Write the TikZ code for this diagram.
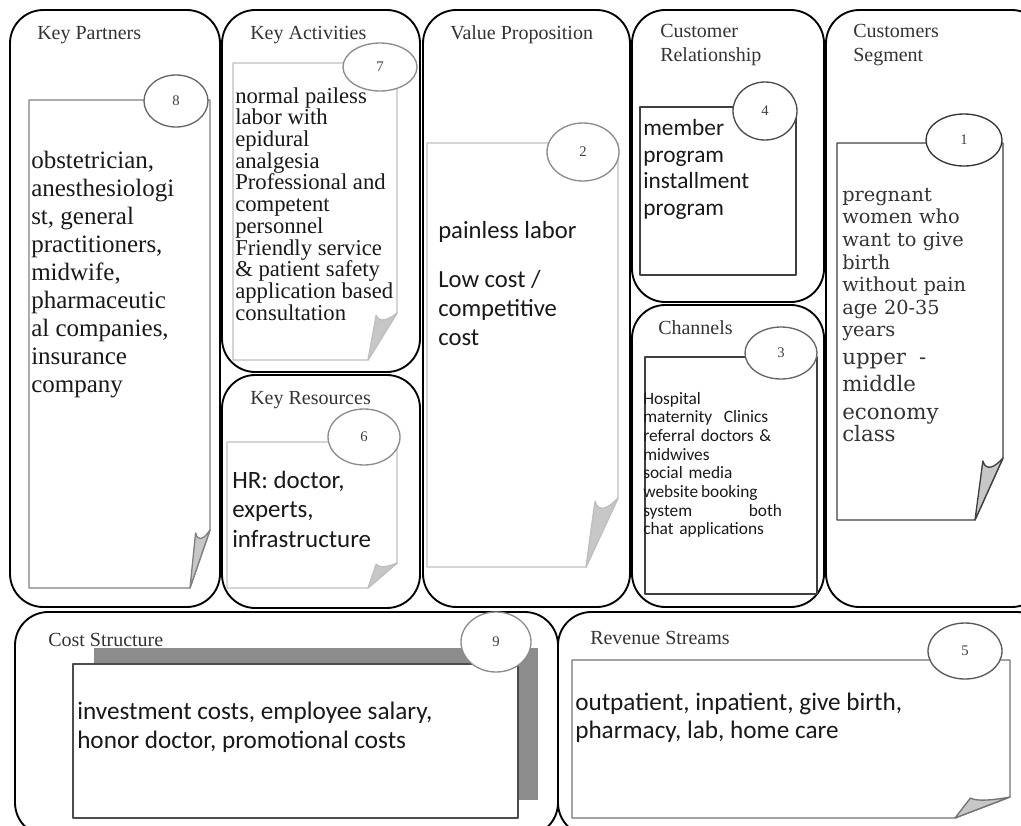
\documentclass[tikz,border=0pt]{standalone}
\usepackage{fontspec}
\setmainfont{Liberation Serif}
\newfontfamily\carlito{Carlito}
\newfontfamily\dejaserif{DejaVu Serif}
\usetikzlibrary{shapes.geometric}

\tikzset{
  bigbox/.style={draw=black, line width=1.4pt, rounded corners=25pt},
  sheetline/.style={line width=1pt, line join=round},
  title/.style={anchor=west, inner sep=0, align=left, text=black!80,
    font=\fontsize{15}{17.5}\selectfont},
  numcirc/.style={ellipse, draw=#1, fill=white, line width=1pt, inner sep=0,
    text=black!75, font=\fontsize{11}{12}\selectfont},
  txt/.style={anchor=north west, inner sep=0, align=left, text=black!90}
}

% folded note sheet: colour, left, top, right, bottom, fold width, fold height
\newcommand{\foldsheet}[7]{%
  \draw[draw=#1, sheetline, fill=white] (#2,#3) -- (#4,#3) -- (#4,#5-#7) -- (#4-#6,#5) -- (#2,#5) -- cycle;
  \draw[draw=#1, sheetline, fill=black!22] (#4-#6,#5) -- (#4-0.72*#6,#5-0.95*#7)
    .. controls (#4-0.6*#6,#5-0.78*#7) and (#4-0.3*#6,#5-0.85*#7) .. (#4,#5-#7) -- cycle;
}

\begin{document}
\begin{tikzpicture}[x=0.75pt,y=-0.75pt]
\useasboundingbox (0,0) rectangle (1021,825);
\clip (0,0) rectangle (1021,825);

% frames of the canvas
\draw[bigbox] (10,10) rectangle (220,607);
\draw[bigbox] (222,10) rectangle (420,372);
\draw[bigbox] (222,375) rectangle (420,608);
\draw[bigbox] (423,10) rectangle (630,607);
\draw[bigbox] (632,10) rectangle (824,302);
\draw[bigbox] (632,305) rectangle (824,607);
\draw[bigbox] (826,10) rectangle (1045,607);
\draw[bigbox] (15,612) rectangle (558,836);
\draw[bigbox] (558,612) rectangle (1050,836);

% titles
\node[title] (kpTitle) at (37,35) {Key Partners};
\node[title] (kaTitle) at (250,35) {Key Activities};
\node[title] (vpTitle) at (450,35) {Value Proposition};
\node[title] (crTitle) at (660,45) {Customer\\Relationship};
\node[title] (csTitle) at (853,45) {Customers\\Segment};
\node[title] (krTitle) at (250,400) {Key Resources};
\node[title] (chTitle) at (658,328) {Channels};
\node[title] (costTitle) at (48,640) {Cost Structure};
\node[title] (revTitle) at (590,638) {Revenue Streams};

% note sheets
\foldsheet{black!50}{29}{100}{210}{588}{20}{58}
\foldsheet{black!25}{233}{63}{397}{360}{29}{47}
\foldsheet{black!25}{227}{442}{397}{588}{29}{25}
\foldsheet{black!25}{427}{143}{618}{567}{32}{69}
\draw[draw=black!75, sheetline] (640,107) rectangle (796,275);
\draw[draw=black!75, sheetline, line width=1.3pt] (645,357) rectangle (817,594);
\foldsheet{black!75}{837}{143}{1003}{520}{28}{62}
\fill[black!45] (94,648) rectangle (538,800);
\draw[draw=black!70, sheetline, fill=white] (73,664) rectangle (518,818);
\foldsheet{black!55}{572}{660}{1010}{818}{55}{21}

% numbered circles
\node[numcirc=black!60, minimum width=48pt, minimum height=39pt] (c8) at (176,101) {8};
\node[numcirc=black!45, minimum width=55.5pt, minimum height=36pt] (c7) at (380,67) {7};
\node[numcirc=black!45, minimum width=54pt, minimum height=42pt] (c6) at (364,437) {6};
\node[numcirc=black!45, minimum width=54pt, minimum height=43.5pt] (c2) at (583,152) {2};
\node[numcirc=black!70, minimum width=48pt, minimum height=43.5pt] (c4) at (765,111) {4};
\node[numcirc=black!60, minimum width=54pt, minimum height=39pt] (c3) at (781,353) {3};
\node[numcirc=black!80, minimum width=57pt, minimum height=39pt] (c1) at (964,140) {1};
\node[numcirc=black!45, minimum width=52.5pt, minimum height=45pt] (c9) at (496,642) {9};
\node[numcirc=black!65, minimum width=55.5pt, minimum height=42pt] (c5) at (965,651) {5};

% contents
\node[txt, font=\fontsize{18.75}{21}\selectfont] (kpText) at (31,151)
  {obstetrician,\\anesthesiologi\\st, general\\practitioners,\\midwife,\\pharmaceutic\\al companies,\\insurance\\company};
\node[txt, font=\fontsize{17}{16.3}\selectfont] (kaText) at (235,87)
  {normal pailess\\labor with\\epidural\\analgesia\\Professional and\\competent\\personnel\\Friendly service\\\& patient safety\\application based\\consultation};
\node[txt, font=\carlito\fontsize{18.5}{21.75}\selectfont] (vpText) at (438,221)
  {painless labor\\[15pt]Low cost /\\competitive\\cost};
\node[txt, font=\carlito\fontsize{17.5}{20}\selectfont] (crText) at (643,119)
  {member\\program\\installment\\program};
\node[txt, text width=104pt, font=\carlito\fontsize{13}{14}\selectfont] (chText) at (643,392)
  {Hospital\\maternity\ \ Clinics\\referral doctors~\&\\midwives\\social media\\website\,booking\\system\hfill both\hspace*{4pt}\\chat applications};
\node[txt, text width=125pt, text=black!80, font=\dejaserif\fontsize{14.5}{16.9}\selectfont] (csText) at (842,188)
  {pregnant\\women who\\want to give\\birth\\without pain\\age 20-35\\years\\{\fontsize{16}{20.6}\selectfont upper\ \ -\\middle\\economy\\class}};
\node[txt, font=\carlito\fontsize{18.7}{22}\selectfont] (krText) at (232,471)
  {HR: doctor,\\experts,\\infrastructure};
\node[txt, font=\carlito\fontsize{18.9}{21.5}\selectfont] (costText) at (77,702)
  {investment costs, employee salary,\\honor doctor, promotional costs};
\node[txt, font=\carlito\fontsize{18.9}{21}\selectfont] (revText) at (575,693)
  {outpatient, inpatient, give birth,\\pharmacy, lab, home care};
\end{tikzpicture}
\end{document}
